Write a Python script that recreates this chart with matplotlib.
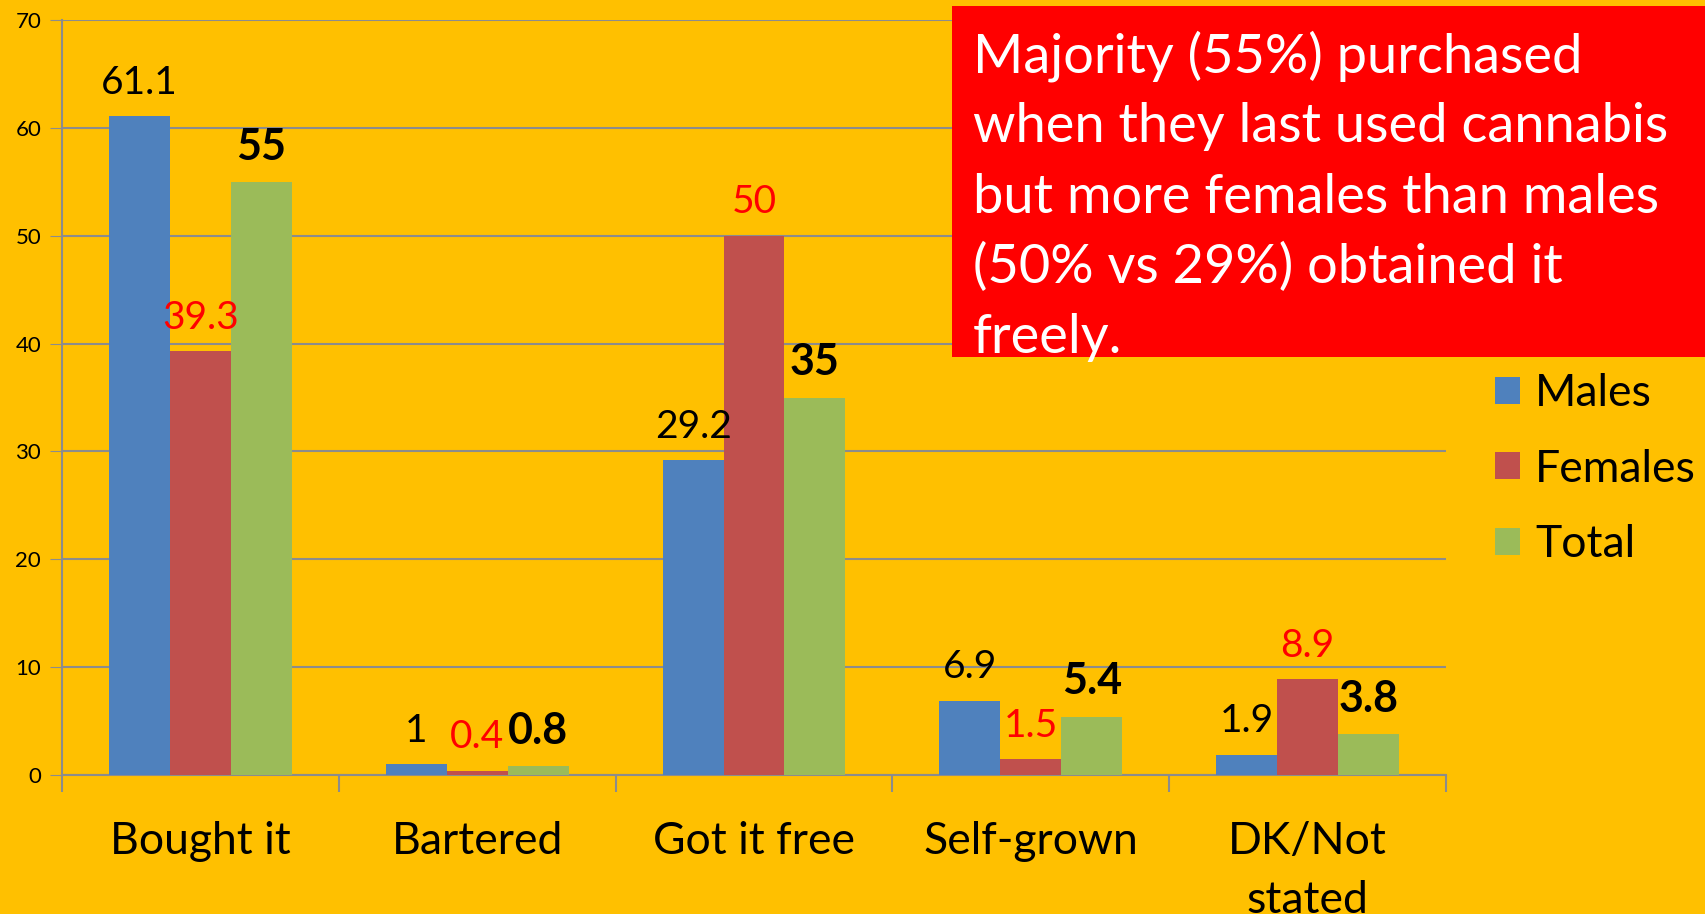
import matplotlib.pyplot as plt
import numpy as np
from matplotlib.patches import Patch, Rectangle

plt.rcParams['font.family'] = ['Lato', 'DejaVu Sans']

categories = ["Bought it", "Bartered", "Got it free", "Self-grown", "DK/Not\nstated"]
males = [61.1, 1, 29.2, 6.9, 1.9]
females = [39.3, 0.4, 50, 1.5, 8.9]
total = [55, 0.8, 35, 5.4, 3.8]
y_ticks = [0, 10, 20, 30, 40, 50, 60, 70]

note_lines = ["Majority (55%) purchased",
              "when they last used cannabis",
              "but more females than males",
              "(50% vs 29%) obtained it",
              "freely."]

bg = "#FFC000"
grid_col = "#8C8C8C"

fig = plt.figure(figsize=(17.05, 9.14), dpi=100, facecolor=bg)
ax = fig.add_axes([62 / 1705, 1 - 775 / 914, (1446 - 62) / 1705, (775 - 20) / 914])
ax.set_facecolor(bg)

x = np.arange(len(categories))
w = 0.22
b1 = ax.bar(x - w, males, w, color="#4F81BD", label="Males", zorder=3)
b2 = ax.bar(x, females, w, color="#C0504D", label="Females", zorder=3)
b3 = ax.bar(x + w, total, w, color="#9BBB59", label="Total", zorder=3)

pad = 11
ax.bar_label(b1, labels=[f"{v:g}" for v in males], padding=pad, fontsize=28, color="black")
ax.bar_label(b2, labels=[f"{v:g}" for v in females], padding=pad, fontsize=28, color="#FF0000")
ax.bar_label(b3, labels=[f"{v:g}" for v in total], padding=pad, fontsize=31,
             color="black", fontweight="bold")

ax.set_xlim(-0.5, len(categories) - 0.5)
ax.set_ylim(0, 70)
ax.set_yticks(y_ticks)
ax.tick_params(axis="y", labelsize=16, length=9, color=grid_col, pad=6)
ax.yaxis.grid(True, color=grid_col, linewidth=1.5, zorder=0)
ax.set_axisbelow(True)

ax.set_xticks(x)
ax.set_xticklabels(categories, fontsize=32, linespacing=1.56)
ax.set_xticks(np.arange(-0.5, len(categories), 1), minor=True)
ax.tick_params(axis="x", which="major", length=0, pad=33)
ax.tick_params(axis="x", which="minor", length=12, color=grid_col, width=1.5)

for s in ["top", "right"]:
    ax.spines[s].set_visible(False)
for s in ["left", "bottom"]:
    ax.spines[s].set_color(grid_col)
    ax.spines[s].set_linewidth(1.5)

# red note box
fig.patches.append(Rectangle((952 / 1705, 1 - 357 / 914), 1 - 952 / 1705, (357 - 6) / 914,
                             transform=fig.transFigure, facecolor="#FF0000",
                             edgecolor="none", zorder=5))
for i, line in enumerate(note_lines):
    fig.text(973 / 1705, 1 - (72 + i * 70.3) / 914, line, color="white", fontsize=39,
             va="baseline", ha="left", zorder=6)

handles = [Patch(facecolor=c, edgecolor="none") for c in ["#4F81BD", "#C0504D", "#9BBB59"]]
fig.legend(handles, ["Males", "Females", "Total"], loc="upper left",
           bbox_to_anchor=(1455 / 1705, 1 - 333 / 914), frameon=False, fontsize=32,
           handlelength=0.56, handleheight=0.56, handletextpad=0.34, labelspacing=0.78)

fig.savefig("out.png", dpi=100, facecolor=bg)
